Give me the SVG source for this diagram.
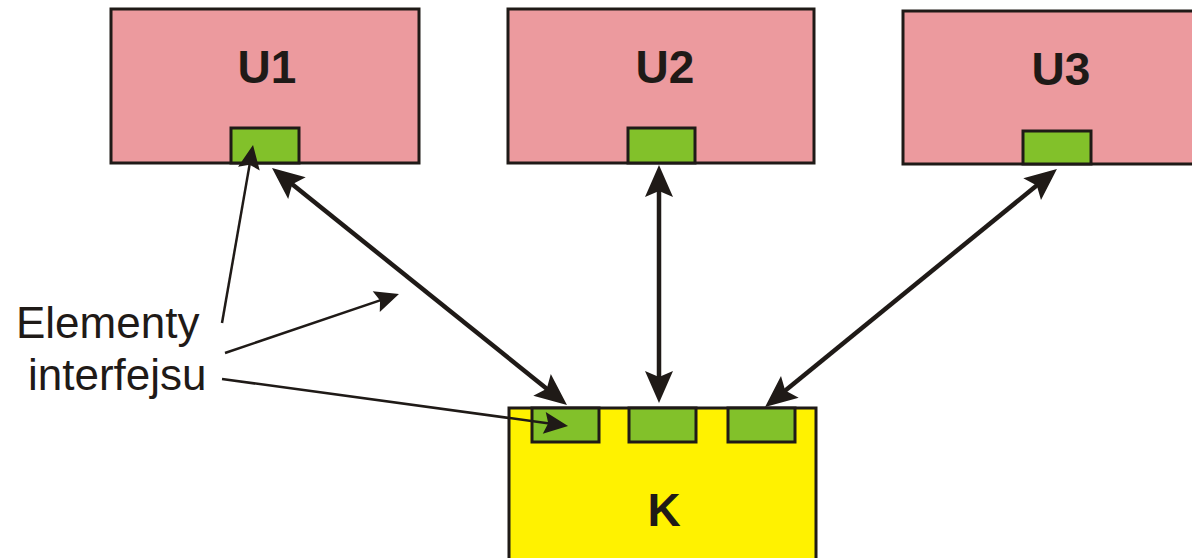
<svg xmlns="http://www.w3.org/2000/svg" width="1192" height="558" viewBox="0 0 1192 558">
<style>
.unit{fill:#EC9A9E;stroke:#1F1A17;stroke-width:3}
.core{fill:#FFF200;stroke:#1F1A17;stroke-width:3}
.port{fill:#82C12A;stroke:#1F1A17;stroke-width:3}
.title{font-family:"Liberation Sans",Arial,sans-serif;font-weight:bold;font-size:46px;fill:#1F1A17;text-anchor:middle}
.label{font-family:"Liberation Sans",Arial,sans-serif;font-size:44px;fill:#1F1A17}
.thick{stroke:#1F1A17;stroke-width:4.5;fill:none;marker-start:url(#headThick);marker-end:url(#headThick)}
.thin{stroke:#1F1A17;stroke-width:2.5;fill:none;marker-end:url(#headThin)}
</style>
<defs>
<marker id="headThick" viewBox="-24 -15 36 30" markerWidth="36" markerHeight="30" refX="0" refY="0" orient="auto-start-reverse" markerUnits="userSpaceOnUse">
<path d="M10,0 L-22,-14 L-16,0 L-22,14 Z" fill="#1F1A17"/>
</marker>
<marker id="headThin" viewBox="-20 -12 28 24" markerWidth="28" markerHeight="24" refX="0" refY="0" orient="auto" markerUnits="userSpaceOnUse">
<path d="M6,0 L-18,-11 L-14,0 L-18,11 Z" fill="#1F1A17"/>
</marker>
</defs>
<rect width="1192" height="558" fill="#FFFFFF"/>
<g id="U1">
<rect class="unit" x="111" y="9" width="308" height="154"/>
<rect class="port" x="231" y="128" width="68" height="35"/>
<text class="title" x="267" y="83">U1</text>
</g>
<g id="U2">
<rect class="unit" x="508" y="9" width="306" height="154"/>
<rect class="port" x="628" y="128" width="67" height="35"/>
<text class="title" x="665" y="83">U2</text>
</g>
<g id="U3">
<rect class="unit" x="903" y="11" width="295" height="153"/>
<rect class="port" x="1023" y="131" width="68" height="33"/>
<text class="title" x="1061" y="85">U3</text>
</g>
<g id="K">
<rect class="core" x="509" y="408" width="307" height="160"/>
<rect class="port" x="532" y="408" width="67" height="34"/>
<rect class="port" x="629" y="408" width="67" height="34"/>
<rect class="port" x="728" y="408" width="67" height="34"/>
<text class="title" x="664" y="526">K</text>
</g>
<g id="label">
<text class="label" x="16" y="338">Elementy</text>
<text class="label" x="28" y="390">interfejsu</text>
</g>
<g id="connectors">
<line class="thick" x1="279.8" y1="174.3" x2="559.2" y2="398.7"/>
<line class="thick" x1="659" y1="175" x2="659" y2="393"/>
<line class="thick" x1="1049.2" y1="175.3" x2="772.8" y2="400.7"/>
<line class="thin" x1="222" y1="323" x2="252" y2="150.9"/>
<line class="thin" x1="225" y1="353" x2="393.3" y2="295.9"/>
<line class="thin" x1="222" y1="379" x2="562.1" y2="425.2"/>
</g>
</svg>
